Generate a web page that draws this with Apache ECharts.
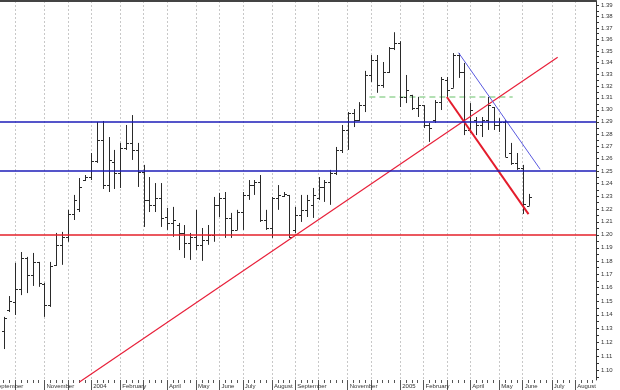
<!DOCTYPE html>
<html><head><meta charset="utf-8">
<script src="https://cdn.jsdelivr.net/npm/echarts@6/dist/echarts.min.js"></script>
<style>html,body{margin:0;padding:0;background:#fff}#c{width:620px;height:390px}</style>
</head><body><div id="c"></div>
<script>
// ---- data (weekly bars, first bar dated firstWeek, one bar per week) ----
const firstWeek = '2003-09-19';
const open = [1.1282,1.1436,1.1494,1.1591,1.1823,1.1695,1.1793,1.1628,1.1473,1.1771,1.1923,1.1984,1.2161,1.2201,1.2428,1.2452,1.2581,1.2751,1.2388,1.2573,1.2483,1.2686,1.2727,1.2670,1.2491,1.2271,1.2232,1.2287,1.2137,1.2091,1.2075,1.2014,1.1938,1.1984,1.1923,1.1961,1.1999,1.2232,1.2287,1.2130,1.2037,1.2176,1.2310,1.2388,1.2412,1.2114,1.2052,1.2287,1.2302,1.2310,1.2037,1.2153,1.2193,1.2232,1.2287,1.2373,1.2412,1.2483,1.2670,1.2833,1.2973,1.2915,1.3039,1.3293,1.3421,1.3209,1.3319,1.3524,1.3567,1.3108,1.3125,1.3014,1.3039,1.2874,1.2915,1.3064,1.3251,1.3184,1.3464,1.3319,1.2833,1.2915,1.2874,1.2915,1.3023,1.2874,1.2899,1.2645,1.2565,1.2525,1.2224];
const high = [1.1385,1.1538,1.1786,1.1868,1.1831,1.1861,1.1793,1.1636,1.1793,1.2014,1.2022,1.2193,1.2310,1.2444,1.2468,1.2645,1.2899,1.2907,1.2775,1.2670,1.2727,1.2874,1.2956,1.2727,1.2549,1.2452,1.2404,1.2404,1.2208,1.2216,1.2091,1.2075,1.2014,1.2193,1.2052,1.2075,1.2294,1.2326,1.2333,1.2169,1.2193,1.2333,1.2428,1.2428,1.2468,1.2193,1.2294,1.2388,1.2333,1.2310,1.2216,1.2310,1.2310,1.2365,1.2452,1.2428,1.2509,1.2694,1.2874,1.2981,1.3006,1.3064,1.3328,1.3464,1.3464,1.3404,1.3533,1.3662,1.3584,1.3293,1.3125,1.3108,1.3039,1.2891,1.3081,1.3276,1.3276,1.3481,1.3481,1.3396,1.3056,1.2940,1.2940,1.3108,1.3023,1.2931,1.2915,1.2727,1.2645,1.2549,1.2318];
const low = [1.1153,1.1421,1.1399,1.1545,1.1560,1.1613,1.1606,1.1385,1.1458,1.1763,1.1771,1.1946,1.2114,1.2176,1.2420,1.2428,1.2565,1.2357,1.2333,1.2357,1.2365,1.2670,1.2589,1.2373,1.2060,1.2176,1.2176,1.2060,1.2037,1.1984,1.1883,1.1823,1.1808,1.1883,1.1801,1.1923,1.1946,1.2137,1.1976,1.1976,1.2037,1.2037,1.2271,1.2310,1.2099,1.2037,1.1976,1.2193,1.2294,1.1976,1.2014,1.2099,1.2137,1.2130,1.2271,1.2255,1.2232,1.2468,1.2645,1.2670,1.2857,1.2907,1.2981,1.3234,1.3142,1.3184,1.3310,1.3507,1.3023,1.3056,1.2998,1.2940,1.2849,1.2735,1.2891,1.2998,1.3108,1.3184,1.3268,1.2791,1.2809,1.2791,1.2775,1.2833,1.2833,1.2817,1.2613,1.2549,1.2509,1.2161,1.2224];
const close = [1.1378,1.1502,1.1591,1.1823,1.1695,1.1793,1.1636,1.1473,1.1763,1.1923,1.1984,1.2161,1.2271,1.2373,1.2452,1.2581,1.2751,1.2388,1.2589,1.2483,1.2686,1.2727,1.2670,1.2491,1.2271,1.2232,1.2287,1.2130,1.2091,1.2114,1.2014,1.1938,1.1984,1.1923,1.1961,1.1999,1.2232,1.2287,1.2130,1.2037,1.2176,1.2310,1.2388,1.2412,1.2114,1.2052,1.2287,1.2310,1.2318,1.1984,1.2153,1.2193,1.2271,1.2310,1.2373,1.2412,1.2483,1.2670,1.2833,1.2973,1.2915,1.3039,1.3293,1.3421,1.3209,1.3319,1.3524,1.3567,1.3108,1.3167,1.3014,1.3039,1.2874,1.2849,1.3064,1.3259,1.3167,1.3464,1.3319,1.2833,1.2998,1.2874,1.2915,1.3039,1.2874,1.2899,1.2613,1.2565,1.2525,1.2240,1.2294];

// month tick dates (first weekly bar of each month) and their labels ('' = not printed)
const monthTicks = ['2003-09-05','2003-10-03','2003-11-07','2003-12-05','2004-01-02','2004-02-06','2004-03-05','2004-04-02','2004-05-07','2004-06-04','2004-07-02','2004-08-06','2004-09-03','2004-10-01','2004-11-05','2004-12-03','2005-01-07','2005-02-04','2005-03-04','2005-04-01','2005-05-06','2005-06-03','2005-07-08','2005-08-05'];
const monthLabels = ['September','','November','','2004','February','','April','May','June','July','August','September','','November','','2005','February','','April','May','June','July','August'];
const yLabels = [1.10,1.11,1.12,1.13,1.14,1.15,1.16,1.17,1.18,1.19,1.20,1.21,1.22,1.23,1.24,1.25,1.26,1.27,1.28,1.29,1.30,1.31,1.32,1.33,1.34,1.35,1.36,1.37,1.38,1.39];

// drawn analysis lines
const blueLevels = [1.2924, 1.2456];
const redLevels = [1.1967];
const riseRed = [['2003-12-19',1.0920],['2005-07-15',1.3445]];
const fallRed = [['2005-03-04',1.3107],['2005-06-10',1.2160]];
const fallBlue = [['2005-03-18',1.3484],['2005-06-24',1.2514]];
const neckline = [['2004-12-01',1.3107],['2005-05-22',1.3107]];

// ---- build ----
const DAY = 86400000;
const t0 = Date.parse(firstWeek);
const bars = open.map((o,i)=>[t0 + i*7*DAY, o, high[i], low[i], close[i]]);
const tMin = Date.parse('2003-09-05'), tMax = Date.parse('2005-08-30');
const weekTicks = [];
for (let t = tMin; t <= tMax; t += 7*DAY) weekTicks.push(t);
const monthTimes = monthTicks.map(d=>Date.parse(d));
const labelTimes = [], labelMap = {};
monthTimes.forEach((t,i)=>{ if (monthLabels[i]) { labelTimes.push(t); labelMap[t] = monthLabels[i]; } });
const yTicks = [];
for (let k = 219; k <= 278; k++) yTicks.push(+(k*0.005).toFixed(3));
const pts = arr => arr.map(p=>[Date.parse(p[0]), p[1]]);

const FONT = 'Liberation Sans';
function renderOHLC(params, api) {
  const t = api.value(0);
  const pO = api.coord([t, api.value(1)]);
  const pH = api.coord([t, api.value(2)]);
  const pL = api.coord([t, api.value(3)]);
  const pC = api.coord([t, api.value(4)]);
  const x = Math.round(pH[0]) + 0.5;
  const yo = Math.round(pO[1]) + 0.5, yc = Math.round(pC[1]) + 0.5;
  const st = {stroke:'#2a2a2a', lineWidth:1};
  return {type:'group', children:[
    {type:'line', shape:{x1:x, y1:pH[1], x2:x, y2:pL[1]}, style:st},
    {type:'line', shape:{x1:x-2.5, y1:yo, x2:x, y2:yo}, style:st},
    {type:'line', shape:{x1:x, y1:yc, x2:x+2.5, y2:yc}, style:st}
  ]};
}
const xBase = {type:'value', min:tMin, max:tMax, gridIndex:0, splitLine:{show:false}, axisLine:{show:false, onZero:false}};
const chart = echarts.init(document.getElementById('c'), null, {renderer:'canvas'});
chart.setOption({
  animation:false,
  backgroundColor:'#fff',
  grid:{left:-8, right:24, top:1, bottom:10, containLabel:false, outerBoundsMode:'none'},
  xAxis:[
    Object.assign({}, xBase, {position:'bottom',
      axisTick:{show:true, customValues:weekTicks, length:3, lineStyle:{color:'#555', width:1}},
      axisLabel:{show:true, customValues:labelTimes, formatter:v=>labelMap[v]||'', align:'left', padding:[0,0,0,2], margin:3, fontSize:6, color:'#333', fontFamily:FONT}}),
    Object.assign({}, xBase, {position:'bottom',
      axisTick:{show:true, customValues:monthTimes, length:10, lineStyle:{color:'#555', width:1}},
      axisLabel:{show:false},
      splitLine:{show:true, lineStyle:{color:'#c8c8c8', width:1, type:[2,2]}}}),
    Object.assign({}, xBase, {position:'top', axisLine:{show:true, onZero:false, lineStyle:{color:'#444', width:2}}, axisTick:{show:false}, axisLabel:{show:false}})
  ],
  yAxis:{type:'log', logBase:10, min:1.0934, max:1.3938, position:'right',
    axisLine:{show:true, onZero:false, lineStyle:{color:'#333', width:1}},
    axisTick:{show:true, customValues:yTicks, length:3, lineStyle:{color:'#333'}},
    axisLabel:{show:true, customValues:yLabels, formatter:v=>(+v).toFixed(2), fontSize:6, color:'#333', margin:5, fontFamily:FONT},
    splitLine:{show:false}, minorTick:{show:false}, minorSplitLine:{show:false}},
  series:[
    {type:'custom', name:'ohlc', renderItem:renderOHLC, data:bars, encode:{x:0, y:[1,2,3,4]}, silent:true, clip:false, z:3},
    {type:'line', name:'neck', data:pts(neckline), symbol:'none', silent:true, z:2,
      lineStyle:{color:'#9ad69a', width:1.5, type:[6,4]},
      markLine:{silent:true, symbol:['none','none'], label:{show:false}, animation:false,
        data:[
          {yAxis:blueLevels[0], lineStyle:{color:'#1c1cb8', width:1.6, type:'solid'}},
          {yAxis:blueLevels[1], lineStyle:{color:'#1c1cb8', width:1.6, type:'solid'}},
          {yAxis:redLevels[0], lineStyle:{color:'#e4202a', width:1.6, type:'solid'}}
        ]}},
    {type:'line', name:'riseRed', data:pts(riseRed), symbol:'none', silent:true, clip:false, z:4, lineStyle:{color:'#e8203a', width:1.2}},
    {type:'line', name:'fallRed', data:pts(fallRed), symbol:'none', silent:true, z:4, lineStyle:{color:'#e41c2c', width:2}},
    {type:'line', name:'fallBlue', data:pts(fallBlue), symbol:'none', silent:true, z:4, lineStyle:{color:'#5a5ae0', width:1}}
  ]
});
</script></body></html>
